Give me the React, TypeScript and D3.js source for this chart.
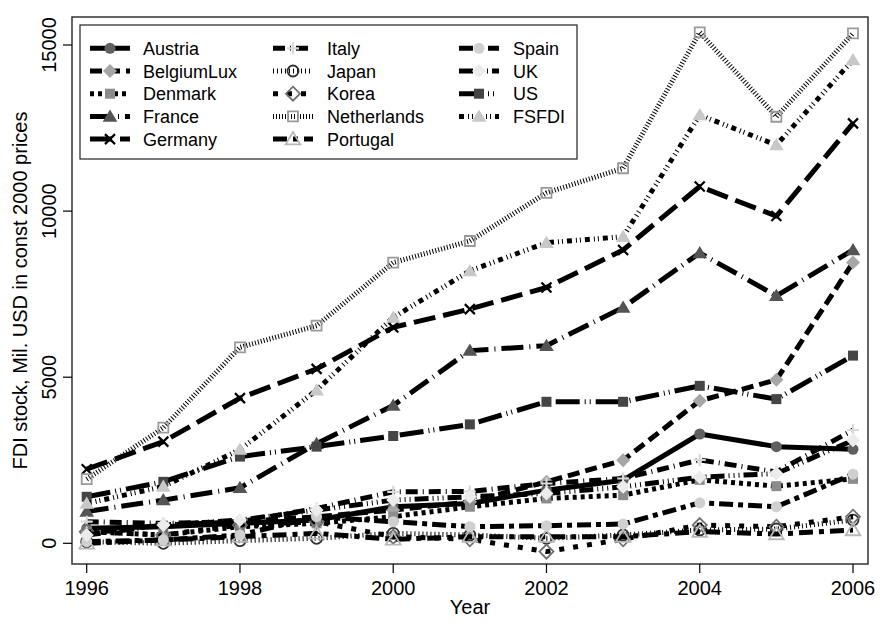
import React, { useRef, useEffect } from 'react';
import * as d3 from 'd3';

// FDI stock, Mil. USD in const 2000 prices
const years = [1996, 1997, 1998, 1999, 2000, 2001, 2002, 2003, 2004, 2005, 2006];

const austria = [450, 500, 600, 700, 1100, 1200, 1600, 1900, 3290, 2910, 2830];
const belgiumLux = [300, 550, 650, 800, 1000, 1250, 1850, 2500, 4290, 4920, 8450];
const denmark = [350, 250, 500, 600, 800, 1100, 1350, 1450, 1910, 1720, 1940];
const france = [960, 1300, 1670, 3000, 4150, 5800, 5950, 7100, 8740, 7450, 8830];
const germany = [2230, 3060, 4370, 5250, 6500, 7050, 7700, 8830, 10740, 9850, 12640];
const italy = [650, 600, 650, 1050, 1550, 1560, 1800, 1950, 2510, 2150, 3410];
const japan = [50, 0, 80, 150, 300, 250, 150, 250, 400, 430, 700];
const korea = [350, 250, 550, 650, 200, 120, -250, 120, 550, 500, 800];
const netherlands = [1930, 3480, 5900, 6550, 8450, 9100, 10550, 11290, 15380, 12840, 15350];
const portugal = [0, 100, 200, 300, 120, 200, 200, 200, 350, 280, 400];
const spain = [50, 100, 250, 800, 650, 500, 530, 580, 1220, 1100, 2080];
const uk = [250, 550, 700, 1000, 1300, 1400, 1500, 1700, 1990, 2100, 3100];
const us = [1400, 1850, 2610, 2910, 3230, 3580, 4260, 4260, 4740, 4340, 5650];
const fsfdi = [1200, 1710, 2820, 4610, 6800, 8200, 9050, 9230, 12890, 11990, 14550];

const xTicks = [1996, 1998, 2000, 2002, 2004, 2006];
const yTicks = [0, 5000, 10000, 15000];

const seriesNames = [
  'Austria', 'BelgiumLux', 'Denmark', 'France', 'Germany', 'Italy', 'Japan',
  'Korea', 'Netherlands', 'Portugal', 'Spain', 'UK', 'US', 'FSFDI',
];
const seriesValues = [
  austria, belgiumLux, denmark, france, germany, italy, japan,
  korea, netherlands, portugal, spain, uk, us, fsfdi,
];

type Style = { shape: string; color: string; hollow?: boolean; dash: string | null };

const styles: Style[] = [
  { shape: 'circle', color: '#606060', dash: null },
  { shape: 'diamond', color: '#a6a6a6', dash: '12 6' },
  { shape: 'square', color: '#8c8c8c', dash: '4 4' },
  { shape: 'triangle', color: '#545454', dash: '22 6 1 6' },
  { shape: 'x', color: '#000', dash: '22 8' },
  { shape: 'plus', color: '#d9d9d9', dash: '12 5 1 5' },
  { shape: 'circle', color: '#303030', hollow: true, dash: '1 3' },
  { shape: 'diamond', color: '#707070', hollow: true, dash: '5 9' },
  { shape: 'square', color: '#9a9a9a', hollow: true, dash: '1 2' },
  { shape: 'triangle', color: '#b8b8b8', hollow: true, dash: '14 6 5 6' },
  { shape: 'circle', color: '#d0d0d0', dash: '14 5 5 5' },
  { shape: 'diamond', color: '#ececec', dash: '14 4 1 4 1 4 1 4' },
  { shape: 'square', color: '#454545', dash: '24 5 1 4 1 5' },
  { shape: 'triangle', color: '#c8c8c8', dash: '5 4 1 3 1 4' },
];

const W = 880;
const H = 622;
const plot = { left: 72, right: 868, top: 17, bottom: 564 };

function markerPath(shape: string, cx: number, cy: number): string {
  switch (shape) {
    case 'circle': {
      const r = 5.5;
      return `M${cx - r},${cy}a${r},${r} 0 1,0 ${2 * r},0a${r},${r} 0 1,0 ${-2 * r},0Z`;
    }
    case 'square': {
      const s = 5;
      return `M${cx - s},${cy - s}h${2 * s}v${2 * s}h${-2 * s}Z`;
    }
    case 'triangle': {
      const s = 7;
      return `M${cx},${cy - s}L${cx + s * 1.05},${cy + s * 0.75}L${cx - s * 1.05},${cy + s * 0.75}Z`;
    }
    case 'diamond': {
      const s = 7;
      return `M${cx},${cy - s}L${cx + s},${cy}L${cx},${cy + s}L${cx - s},${cy}Z`;
    }
    case 'plus': {
      const s = 6;
      return `M${cx - s},${cy}H${cx + s}M${cx},${cy - s}V${cy + s}`;
    }
    case 'x': {
      const s = 5;
      return `M${cx - s},${cy - s}L${cx + s},${cy + s}M${cx - s},${cy + s}L${cx + s},${cy - s}`;
    }
    default:
      return '';
  }
}

function addMarker(g: any, st: Style, cx: number, cy: number) {
  const p = g.append('path').attr('d', markerPath(st.shape, cx, cy));
  if (st.shape === 'plus' || st.shape === 'x') {
    p.attr('fill', 'none').attr('stroke', st.color).attr('stroke-width', 2.2);
  } else if (st.hollow) {
    p.attr('fill', 'none').attr('stroke', st.color).attr('stroke-width', 1.8);
  } else {
    p.attr('fill', st.color).attr('stroke', 'none');
  }
}

const App: React.FC = () => {
  const svgRef = useRef<SVGSVGElement>(null);

  useEffect(() => {
    if (!svgRef.current) return;
    const svg = d3.select(svgRef.current);
    svg.selectAll('*').remove();

    const font = '"Liberation Sans", Arial, Helvetica, sans-serif';

    const xScale = d3.scaleLinear().domain([1996, 2006]).range([86.7, 853]);
    const yScale = d3.scaleLinear().domain([0, 15000]).range([543.3, 45]);

    svg.append('rect').attr('width', W).attr('height', H).attr('fill', '#fff');

    // plot region outline
    svg
      .append('rect')
      .attr('x', plot.left)
      .attr('y', plot.top)
      .attr('width', plot.right - plot.left)
      .attr('height', plot.bottom - plot.top)
      .attr('fill', 'none')
      .attr('stroke', '#333')
      .attr('stroke-width', 1.5);

    // y axis
    const yAxis = svg.append('g');
    yAxis
      .selectAll('line')
      .data(yTicks)
      .enter()
      .append('line')
      .attr('x1', plot.left - 9)
      .attr('x2', plot.left)
      .attr('y1', (d) => yScale(d))
      .attr('y2', (d) => yScale(d))
      .attr('stroke', '#000')
      .attr('stroke-width', 1.2);
    yAxis
      .selectAll('text')
      .data(yTicks)
      .enter()
      .append('text')
      .attr('transform', (d) => `translate(${plot.left - 16},${yScale(d)}) rotate(-90)`)
      .attr('text-anchor', 'middle')
      .style('font-family', font)
      .style('font-size', '20px')
      .text((d) => d);

    // x axis
    const xAxis = svg.append('g');
    xAxis
      .selectAll('line')
      .data(xTicks)
      .enter()
      .append('line')
      .attr('x1', (d) => xScale(d))
      .attr('x2', (d) => xScale(d))
      .attr('y1', plot.bottom)
      .attr('y2', plot.bottom + 9)
      .attr('stroke', '#000')
      .attr('stroke-width', 1.2);
    xAxis
      .selectAll('text')
      .data(xTicks)
      .enter()
      .append('text')
      .attr('x', (d) => xScale(d))
      .attr('y', plot.bottom + 31)
      .attr('text-anchor', 'middle')
      .style('font-family', font)
      .style('font-size', '20px')
      .text((d) => d);

    svg
      .append('text')
      .attr('x', (plot.left + plot.right) / 2)
      .attr('y', 614)
      .attr('text-anchor', 'middle')
      .style('font-family', font)
      .style('font-size', '20px')
      .text('Year');

    svg
      .append('text')
      .attr('transform', `translate(27,${(plot.top + plot.bottom) / 2}) rotate(-90)`)
      .attr('text-anchor', 'middle')
      .style('font-family', font)
      .style('font-size', '20px')
      .text('FDI stock, Mil. USD in const 2000 prices');

    // series
    const line = d3
      .line<number>()
      .x((_, i) => xScale(years[i]))
      .y((d) => yScale(d));

    const series = svg.append('g');
    seriesValues.forEach((vals, si) => {
      const st = styles[si];
      const g = series.append('g');
      g.append('path')
        .datum(vals)
        .attr('d', line)
        .attr('fill', 'none')
        .attr('stroke', '#000')
        .attr('stroke-width', 5)
        .attr('stroke-linejoin', 'round')
        .attr('stroke-dasharray', st.dash ?? null);
      vals.forEach((v, i) => addMarker(g, st, xScale(years[i]), yScale(v)));
    });

    // legend
    const lx = 80;
    const ly = 25;
    const legend = svg.append('g');
    legend
      .append('rect')
      .attr('x', lx)
      .attr('y', ly)
      .attr('width', 497)
      .attr('height', 134)
      .attr('fill', '#fff')
      .attr('stroke', '#222')
      .attr('stroke-width', 1.2);

    const colKey = [90, 273, 459];
    const colText = [143, 327, 513];
    seriesNames.forEach((name, si) => {
      const col = Math.floor(si / 5);
      const row = si % 5;
      const cy = 48.3 + row * 22.7;
      const st = styles[si];
      const kx = colKey[col];
      legend
        .append('line')
        .attr('x1', kx)
        .attr('x2', kx + 40)
        .attr('y1', cy)
        .attr('y2', cy)
        .attr('stroke', '#000')
        .attr('stroke-width', 5)
        .attr('stroke-dasharray', st.dash ?? null);
      addMarker(legend, st, kx + 20, cy);
      legend
        .append('text')
        .attr('x', colText[col])
        .attr('y', cy + 6.5)
        .style('font-family', font)
        .style('font-size', '18px')
        .text(name);
    });
  }, []);

  return (
    <div style={{ position: 'absolute', left: 0, top: 0 }}>
      <svg ref={svgRef} width={W} height={H} style={{ display: 'block' }}></svg>
    </div>
  );
};

export default App;
